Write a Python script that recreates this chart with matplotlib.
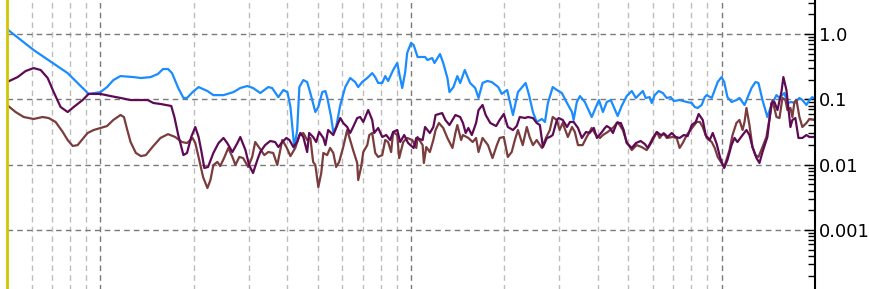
import matplotlib
matplotlib.use("Agg")
import matplotlib.pyplot as plt
from matplotlib.ticker import LogLocator, FixedLocator, FixedFormatter, NullFormatter

# frequency (Hz) / magnitude readings for the three traces
freq_blue = [5.0, 6.09, 7.84, 9.16, 10.0, 10.5, 11.0, 11.6, 12.8, 13.5, 14.5, 15.3, 15.9, 16.5, 17.0,
             17.8, 18.5, 19.0, 19.8, 20.7, 22.1, 23.1, 24.9, 26.8, 28.2, 29.7, 31.0, 32.7, 34.7, 35.7,
             37.4, 38.8, 40.0, 40.9, 42.1, 43.0, 43.7, 45.0, 46.3, 47.4, 49.2, 50.3, 51.8, 53.0, 53.7,
             55.3, 56.2, 57.4, 59.2, 61.4, 63.7, 66.1, 67.6, 69.6, 72.3, 75.0, 76.7, 78.4, 80.8, 82.6,
             84.4, 87.6, 90.3, 91.6, 93.7, 95.8, 97.2, 100, 102, 105, 111, 113, 117, 119, 124, 127,
             131, 133, 137, 141, 144, 149, 155, 161, 165, 170, 176, 182, 191, 196, 204, 213, 221, 228,
             234, 240, 247, 254, 264, 270, 276, 286, 295, 306, 318, 330, 334, 342, 350, 363, 368, 382,
             394, 403, 415, 427, 440, 450, 463, 477, 495, 514, 530, 541, 558, 570, 587, 596, 609, 628,
             647, 666, 686, 702, 733, 773, 802, 820, 838, 863, 883, 896, 930, 951, 972, 1000, 1020,
             1045, 1077, 1117, 1142, 1186, 1212, 1249, 1286, 1315, 1355, 1405, 1448, 1503, 1537, 1594,
             1630, 1679, 1717, 1782, 1821, 1877, 1919, 1961, 2000]
mag_blue = [1.19, 0.569, 0.252, 0.121, 0.129, 0.154, 0.197, 0.227, 0.219, 0.212, 0.219, 0.244, 0.291,
            0.291, 0.252, 0.149, 0.105, 0.105, 0.129, 0.154, 0.134, 0.116, 0.116, 0.129, 0.149, 0.160,
            0.149, 0.125, 0.154, 0.149, 0.108, 0.139, 0.129, 0.0763, 0.0180, 0.0339, 0.154, 0.197,
            0.184, 0.125, 0.0639, 0.0763, 0.129, 0.134, 0.108, 0.0536, 0.0316, 0.0377, 0.0819, 0.154,
            0.212, 0.184, 0.154, 0.184, 0.212, 0.252, 0.219, 0.178, 0.178, 0.227, 0.191, 0.281, 0.360,
            0.252, 0.149, 0.262, 0.512, 0.729, 0.679, 0.445, 0.445, 0.400, 0.429, 0.360, 0.494, 0.360,
            0.212, 0.129, 0.154, 0.227, 0.178, 0.281, 0.178, 0.149, 0.105, 0.178, 0.191, 0.184, 0.154,
            0.121, 0.139, 0.0575, 0.129, 0.154, 0.178, 0.116, 0.0639, 0.0450, 0.0500, 0.0450, 0.0879,
            0.154, 0.139, 0.125, 0.0879, 0.0639, 0.0483, 0.0910, 0.112, 0.0910, 0.0791, 0.0536, 0.0763,
            0.0975, 0.0639, 0.0910, 0.0975, 0.0763, 0.0555, 0.0791, 0.112, 0.134, 0.105, 0.116, 0.134,
            0.105, 0.108, 0.0879, 0.116, 0.134, 0.125, 0.105, 0.108, 0.0942, 0.0975, 0.0910, 0.0879,
            0.0763, 0.0737, 0.0819, 0.108, 0.116, 0.105, 0.139, 0.184, 0.219, 0.184, 0.108, 0.0910,
            0.0975, 0.105, 0.0819, 0.105, 0.149, 0.184, 0.178, 0.0975, 0.0536, 0.0819, 0.116, 0.105,
            0.125, 0.0879, 0.0910, 0.0879, 0.105, 0.0975, 0.0819, 0.0975, 0.108, 0.102]

freq_purple = [5.0, 5.41, 5.74, 6.09, 6.42, 6.76, 7.07, 7.44, 7.84, 8.20, 8.76, 9.16, 10.0, 10.8, 11.6,
               12.5, 14.2, 14.8, 15.6, 16.9, 17.3, 17.8, 18.5, 19.0, 19.6, 20.2, 20.7, 21.1, 21.6, 22.2,
               23.1, 24.0, 24.9, 25.6, 26.6, 27.6, 28.2, 29.3, 30.1, 31.0, 32.0, 32.7, 33.9, 35.2, 36.5,
               37.4, 38.5, 39.7, 40.6, 41.8, 43.0, 44.0, 45.0, 46.3, 47.0, 48.4, 49.5, 50.6, 52.2, 53.0,
               54.1, 56.2, 57.9, 59.2, 60.5, 62.3, 63.7, 65.1, 67.1, 68.6, 70.2, 72.8, 75.0, 76.1, 78.4,
               80.8, 83.2, 85.7, 87.6, 90.3, 92.3, 95.1, 97.9, 102, 104, 109, 111, 115, 118, 120, 126,
               129, 133, 139, 144, 147, 150, 153, 157, 162, 165, 170, 174, 180, 188, 193, 199, 205, 213,
               219, 224, 233, 238, 247, 254, 260, 266, 274, 280, 286, 295, 299, 308, 318, 325, 334, 345,
               355, 366, 376, 388, 397, 412, 421, 427, 437, 447, 460, 474, 484, 495, 514, 530, 549, 566,
               579, 601, 619, 637, 656, 671, 691, 712, 733, 756, 778, 802, 826, 844, 870, 889, 916, 937,
               965, 987, 1000, 1020, 1045, 1077, 1101, 1125, 1169, 1203, 1230, 1258, 1296, 1325, 1355,
               1405, 1448, 1480, 1514, 1559, 1582, 1618, 1642, 1667, 1691, 1729, 1769, 1821, 1877, 1919,
               2000]
mag_purple = [0.184, 0.219, 0.271, 0.301, 0.281, 0.212, 0.129, 0.0763, 0.0639, 0.0763, 0.0975, 0.121,
              0.121, 0.112, 0.105, 0.0975, 0.0975, 0.0879, 0.0849, 0.0791, 0.0536, 0.0284, 0.0140,
              0.0151, 0.0265, 0.0377, 0.0265, 0.0167, 0.00888, 0.00921, 0.0151, 0.0214, 0.0256, 0.0214,
              0.0156, 0.0214, 0.0265, 0.0167, 0.00986, 0.00744, 0.0118, 0.0156, 0.0199, 0.0230, 0.0222,
              0.0186, 0.0222, 0.0256, 0.0238, 0.0186, 0.0222, 0.0305, 0.0265, 0.0156, 0.0305, 0.0265,
              0.0222, 0.0316, 0.0256, 0.0199, 0.0339, 0.0284, 0.0404, 0.0517, 0.0434, 0.0377, 0.0305,
              0.0377, 0.0517, 0.0536, 0.0450, 0.0685, 0.0483, 0.0305, 0.0364, 0.0265, 0.0284, 0.0238,
              0.0316, 0.0339, 0.0222, 0.0284, 0.0214, 0.0180, 0.0256, 0.0238, 0.0377, 0.0305, 0.0377,
              0.0575, 0.0616, 0.0483, 0.0404, 0.0575, 0.0536, 0.0434, 0.0305, 0.0364, 0.0284, 0.0434,
              0.0685, 0.0819, 0.0575, 0.0434, 0.0390, 0.0483, 0.0596, 0.0377, 0.0339, 0.0390, 0.0536,
              0.0517, 0.0536, 0.0517, 0.0434, 0.0404, 0.0186, 0.0256, 0.0265, 0.0284, 0.0483, 0.0517,
              0.0483, 0.0377, 0.0450, 0.0450, 0.0364, 0.0256, 0.0316, 0.0305, 0.0364, 0.0256, 0.0316,
              0.0364, 0.0390, 0.0364, 0.0305, 0.0434, 0.0434, 0.0339, 0.0214, 0.0180, 0.0214, 0.0230,
              0.0207, 0.0180, 0.0256, 0.0316, 0.0284, 0.0294, 0.0265, 0.0305, 0.0265, 0.0256, 0.0284,
              0.0274, 0.0404, 0.0450, 0.0596, 0.0483, 0.0284, 0.0238, 0.0305, 0.0207, 0.0135, 0.0110,
              0.00888, 0.0118, 0.0199, 0.0256, 0.0222, 0.0284, 0.0339, 0.0284, 0.0186, 0.0126, 0.0106,
              0.0156, 0.0265, 0.0879, 0.0910, 0.0685, 0.129, 0.219, 0.139, 0.0737, 0.0377, 0.0483,
              0.0517, 0.0256, 0.0256, 0.0284, 0.0265, 0.0265]

freq_brown = [5.0, 5.33, 5.66, 6.09, 6.51, 6.81, 7.17, 7.56, 7.84, 8.14, 8.44, 8.76, 9.09, 9.51, 10.0,
              10.5, 11.0, 11.6, 11.9, 12.2, 12.5, 13.0, 13.5, 14.0, 14.7, 15.6, 16.5, 17.4, 18.3, 19.0,
              19.8, 20.2, 20.8, 21.4, 22.1, 22.6, 23.1, 23.8, 24.3, 25.0, 25.8, 26.6, 27.2, 28.0, 28.8,
              29.9, 30.8, 31.5, 32.5, 33.7, 34.7, 36.0, 37.1, 38.5, 39.7, 40.9, 42.4, 43.7, 45.0, 46.3,
              47.4, 48.4, 49.2, 50.3, 51.4, 52.2, 53.7, 54.9, 56.2, 57.4, 58.7, 60.5, 62.3, 63.7, 65.1,
              67.1, 67.6, 69.1, 70.2, 72.3, 73.4, 75.0, 76.7, 78.4, 80.8, 82.6, 84.4, 86.3, 87.6, 90.3,
              91.6, 94.4, 97.2, 101, 104, 105, 109, 110, 112, 115, 118, 120, 123, 127, 131, 136, 139,
              141, 145, 147, 153, 158, 162, 165, 170, 177, 183, 189, 193, 199, 205, 211, 216, 221, 229,
              236, 241, 247, 254, 264, 272, 280, 286, 295, 301, 308, 320, 330, 337, 345, 357, 368, 382,
              394, 406, 415, 430, 450, 463, 481, 495, 514, 533, 553, 574, 596, 619, 632, 651, 666, 696,
              717, 733, 750, 773, 808, 832, 851, 870, 896, 930, 951, 972, 1000, 1020, 1061, 1085, 1117,
              1142, 1169, 1186, 1203, 1230, 1258, 1286, 1315, 1355, 1395, 1437, 1459, 1503, 1537, 1571,
              1606, 1630, 1667, 1691, 1717, 1743, 1782, 1821, 1877, 1919, 2000]
mag_brown = [0.0819, 0.0639, 0.0536, 0.0500, 0.0536, 0.0517, 0.0450, 0.0316, 0.0238, 0.0193, 0.0199,
             0.0247, 0.0305, 0.0339, 0.0364, 0.0390, 0.0483, 0.0575, 0.0536, 0.0339, 0.0222, 0.0151,
             0.0135, 0.0140, 0.0186, 0.0256, 0.0293, 0.0265, 0.0222, 0.0214, 0.0256, 0.0214, 0.0118,
             0.00645, 0.00438, 0.00581, 0.00986, 0.0110, 0.00950, 0.0126, 0.0180, 0.0131, 0.00986,
             0.0131, 0.0126, 0.00921, 0.0131, 0.0222, 0.0180, 0.0140, 0.0156, 0.0151, 0.00986, 0.0238,
             0.0186, 0.0135, 0.0180, 0.0284, 0.0305, 0.0238, 0.0256, 0.0110, 0.00986, 0.00453, 0.00744,
             0.0151, 0.0140, 0.0180, 0.0151, 0.00921, 0.0110, 0.0186, 0.0339, 0.0238, 0.0167, 0.0106,
             0.00581, 0.00921, 0.0156, 0.0199, 0.0284, 0.0305, 0.0151, 0.0131, 0.0140, 0.0238, 0.0222,
             0.0156, 0.0316, 0.0284, 0.0126, 0.0222, 0.0256, 0.0238, 0.0180, 0.0265, 0.0199, 0.0106,
             0.0186, 0.0156, 0.0238, 0.0339, 0.0434, 0.0364, 0.0256, 0.0180, 0.0305, 0.0404, 0.0238,
             0.0284, 0.0256, 0.0222, 0.0256, 0.0156, 0.0256, 0.0199, 0.0126, 0.0199, 0.0256, 0.0265,
             0.0131, 0.0156, 0.0238, 0.0339, 0.0199, 0.0377, 0.0265, 0.0199, 0.0238, 0.0180, 0.0256,
             0.0339, 0.0536, 0.0483, 0.0339, 0.0434, 0.0265, 0.0377, 0.0316, 0.0199, 0.0199, 0.0265,
             0.0364, 0.0284, 0.0256, 0.0284, 0.0316, 0.0377, 0.0450, 0.0339, 0.0222, 0.0167, 0.0199,
             0.0186, 0.0167, 0.0222, 0.0316, 0.0256, 0.0305, 0.0256, 0.0265, 0.0256, 0.0180, 0.0214,
             0.0284, 0.0377, 0.0450, 0.0450, 0.0377, 0.0256, 0.0222, 0.0180, 0.0131, 0.0106, 0.00921,
             0.0167, 0.0284, 0.0434, 0.0483, 0.0339, 0.0450, 0.0737, 0.0404, 0.0186, 0.0140, 0.0131,
             0.0186, 0.0265, 0.0616, 0.0975, 0.0536, 0.0517, 0.105, 0.0975, 0.0685, 0.0737, 0.0536,
             0.0910, 0.0975, 0.0536, 0.0377, 0.0434, 0.0500, 0.0483]

y_ticks = [1.0, 0.1, 0.01, 0.001, 0.0001]
y_labels = ["1.0", "0.1", "0.01", "0.001", "0.0001"]

fig = plt.figure(figsize=(8.7, 2.89), dpi=100)
ax = fig.add_axes([7 / 870, -11 / 289, 808 / 870, 300 / 289])

ax.plot(freq_blue, mag_blue, color="#1a8cff", lw=1.6)
ax.plot(freq_brown, mag_brown, color="#7a3c3c", lw=1.6)
ax.plot(freq_purple, mag_purple, color="#5e0a55", lw=1.6)

ax.set_xscale("log")
ax.set_yscale("log")
ax.set_xlim(5, 2000)
ax.set_ylim(8.45e-5, 3.32)

# grid
ax.xaxis.set_major_locator(FixedLocator([10, 100, 1000]))
ax.xaxis.set_minor_locator(LogLocator(base=10, subs=range(2, 10)))
ax.grid(True, which="major", axis="both", color="#7a7a7a", lw=1, dashes=(4, 3))
ax.grid(True, which="minor", axis="x", color="#bdbdbd", lw=1, dashes=(4, 3))
ax.tick_params(axis="x", which="both", length=0, labelbottom=False)

# right-hand y axis
ax.yaxis.tick_right()
ax.yaxis.set_major_locator(FixedLocator(y_ticks))
ax.yaxis.set_major_formatter(FixedFormatter(y_labels))
ax.yaxis.set_minor_locator(LogLocator(base=10, subs=range(2, 10)))
ax.yaxis.set_minor_formatter(NullFormatter())
ax.tick_params(axis="y", which="major", direction="in", length=8, width=1,
               labelsize=13, pad=3, colors="black")
ax.tick_params(axis="y", which="minor", direction="in", length=5, width=1, colors="black")

ax.spines["top"].set_visible(False)
ax.spines["bottom"].set_visible(False)
ax.spines["left"].set_color("#d2c600")
ax.spines["left"].set_linewidth(2)
ax.spines["right"].set_color("black")
ax.spines["right"].set_linewidth(1.5)

fig.savefig("out.png", dpi=100)
